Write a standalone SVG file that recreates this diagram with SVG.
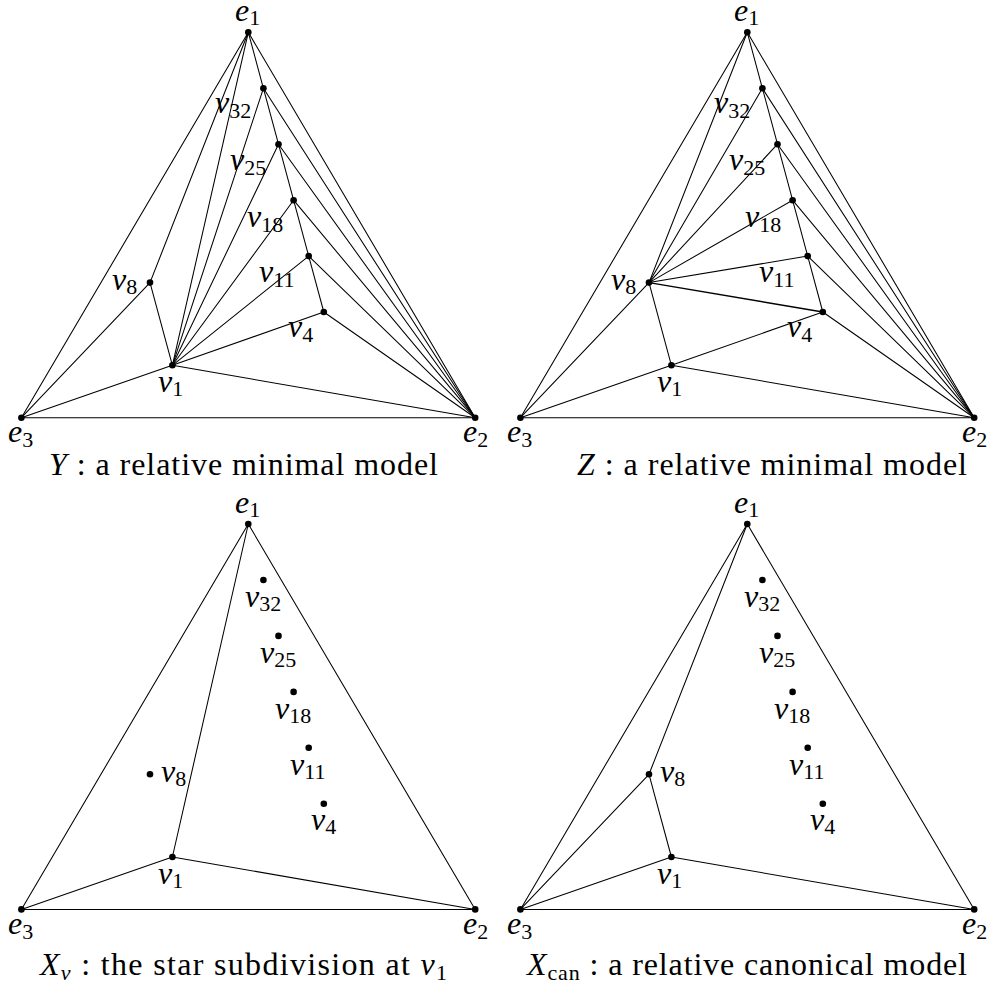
<svg xmlns="http://www.w3.org/2000/svg" width="993" height="998" viewBox="0 0 993 998" font-family="'Liberation Serif', 'Times New Roman', serif">
<style>
.bg{fill:#fff}
.e line{stroke:#000;stroke-width:1.05;stroke-linecap:round}
.pt{fill:#000}
text{font-family:'Liberation Serif','Times New Roman',serif;fill:#000}
.m{font-size:32px;font-style:italic}
.s{font-size:22px;font-style:normal}
.si{font-size:22px;font-style:italic}
.r{font-size:32px;font-style:normal}
</style>
<rect class="bg" x="0" y="0" width="993" height="998"/>

<!-- Panel Y -->
<g id="panel-Y">
  <g class="e" id="Y-connectors">
    <line x1="248.3" y1="32.3" x2="475.2" y2="417.7"/>
    <line x1="475.2" y1="417.7" x2="21.4" y2="417.7"/>
    <line x1="21.4" y1="417.7" x2="248.3" y2="32.3"/>
    <line x1="248.3" y1="32.3" x2="150" y2="282.6"/>
    <line x1="248.3" y1="32.3" x2="172.4" y2="365.3"/>
    <line x1="248.3" y1="32.3" x2="263.4" y2="88.3"/>
    <line x1="263.4" y1="88.3" x2="278.5" y2="144.2"/>
    <line x1="278.5" y1="144.2" x2="293.6" y2="200.2"/>
    <line x1="293.6" y1="200.2" x2="308.7" y2="256.1"/>
    <line x1="308.7" y1="256.1" x2="323.8" y2="312"/>
    <line x1="263.4" y1="88.3" x2="475.2" y2="417.7"/>
    <line x1="278.5" y1="144.2" x2="475.2" y2="417.7"/>
    <line x1="293.6" y1="200.2" x2="475.2" y2="417.7"/>
    <line x1="308.7" y1="256.1" x2="475.2" y2="417.7"/>
    <line x1="323.8" y1="312" x2="475.2" y2="417.7"/>
    <line x1="172.4" y1="365.3" x2="475.2" y2="417.7"/>
    <line x1="263.4" y1="88.3" x2="172.4" y2="365.3"/>
    <line x1="278.5" y1="144.2" x2="172.4" y2="365.3"/>
    <line x1="293.6" y1="200.2" x2="172.4" y2="365.3"/>
    <line x1="308.7" y1="256.1" x2="172.4" y2="365.3"/>
    <line x1="323.8" y1="312" x2="172.4" y2="365.3"/>
    <line x1="150" y1="282.6" x2="172.4" y2="365.3"/>
    <line x1="150" y1="282.6" x2="21.4" y2="417.7"/>
    <line x1="172.4" y1="365.3" x2="21.4" y2="417.7"/>
  </g>
  <g id="Y-e1"><circle class="pt" cx="248.3" cy="32.3" r="3.3"/><text class="m" x="235" y="21">e<tspan class="s" dy="4">1</tspan></text></g>
  <g id="Y-e2"><circle class="pt" cx="475.2" cy="417.7" r="3.3"/><text class="m" x="463" y="442">e<tspan class="s" dy="5">2</tspan></text></g>
  <g id="Y-e3"><circle class="pt" cx="21.4" cy="417.7" r="3.3"/><text class="m" x="8" y="442">e<tspan class="s" dy="5">3</tspan></text></g>
  <g id="Y-v32"><circle class="pt" cx="263.4" cy="88.3" r="3.3"/><text class="m" x="215" y="113">v<tspan class="s" dy="5">32</tspan></text></g>
  <g id="Y-v25"><circle class="pt" cx="278.5" cy="144.2" r="3.3"/><text class="m" x="230" y="170">v<tspan class="s" dy="5">25</tspan></text></g>
  <g id="Y-v18"><circle class="pt" cx="293.6" cy="200.2" r="3.3"/><text class="m" x="247" y="227">v<tspan class="s" dy="5">18</tspan></text></g>
  <g id="Y-v11"><circle class="pt" cx="308.7" cy="256.1" r="3.3"/><text class="m" x="259" y="282">v<tspan class="s" dy="5">11</tspan></text></g>
  <g id="Y-v4"><circle class="pt" cx="323.8" cy="312" r="3.3"/><text class="m" x="288" y="337">v<tspan class="s" dy="5">4</tspan></text></g>
  <g id="Y-v8"><circle class="pt" cx="150" cy="282.6" r="3.3"/><text class="m" x="112" y="290">v<tspan class="s" dy="4">8</tspan></text></g>
  <g id="Y-v1"><circle class="pt" cx="172.4" cy="365.3" r="3.3"/><text class="m" x="158" y="392">v<tspan class="s" dy="4">1</tspan></text></g>
  <text id="Y-caption" x="49" y="475" textLength="389" lengthAdjust="spacing"><tspan class="m">Y</tspan><tspan class="r"> : a relative minimal model</tspan></text>
</g>

<!-- Panel Z -->
<g id="panel-Z" transform="translate(499,0)">
  <g class="e" id="Z-connectors">
    <line x1="248.3" y1="32.3" x2="475.2" y2="417.7"/>
    <line x1="475.2" y1="417.7" x2="21.4" y2="417.7"/>
    <line x1="21.4" y1="417.7" x2="248.3" y2="32.3"/>
    <line x1="248.3" y1="32.3" x2="150" y2="282.6"/>
    <line x1="248.3" y1="32.3" x2="263.4" y2="88.3"/>
    <line x1="263.4" y1="88.3" x2="278.5" y2="144.2"/>
    <line x1="278.5" y1="144.2" x2="293.6" y2="200.2"/>
    <line x1="293.6" y1="200.2" x2="308.7" y2="256.1"/>
    <line x1="308.7" y1="256.1" x2="323.8" y2="312"/>
    <line x1="263.4" y1="88.3" x2="475.2" y2="417.7"/>
    <line x1="278.5" y1="144.2" x2="475.2" y2="417.7"/>
    <line x1="293.6" y1="200.2" x2="475.2" y2="417.7"/>
    <line x1="308.7" y1="256.1" x2="475.2" y2="417.7"/>
    <line x1="323.8" y1="312" x2="475.2" y2="417.7"/>
    <line x1="172.4" y1="365.3" x2="475.2" y2="417.7"/>
    <line x1="150" y1="282.6" x2="263.4" y2="88.3"/>
    <line x1="150" y1="282.6" x2="278.5" y2="144.2"/>
    <line x1="150" y1="282.6" x2="293.6" y2="200.2"/>
    <line x1="150" y1="282.6" x2="308.7" y2="256.1"/>
    <line x1="150" y1="282.6" x2="323.8" y2="312" style="stroke-width:1.4"/>
    <line x1="150" y1="282.6" x2="172.4" y2="365.3"/>
    <line x1="150" y1="282.6" x2="21.4" y2="417.7"/>
    <line x1="172.4" y1="365.3" x2="21.4" y2="417.7"/>
    <line x1="172.4" y1="365.3" x2="323.8" y2="312"/>
  </g>
  <g id="Z-e1"><circle class="pt" cx="248.3" cy="32.3" r="3.3"/><text class="m" x="235" y="21">e<tspan class="s" dy="4">1</tspan></text></g>
  <g id="Z-e2"><circle class="pt" cx="475.2" cy="417.7" r="3.3"/><text class="m" x="463" y="442">e<tspan class="s" dy="5">2</tspan></text></g>
  <g id="Z-e3"><circle class="pt" cx="21.4" cy="417.7" r="3.3"/><text class="m" x="8" y="442">e<tspan class="s" dy="5">3</tspan></text></g>
  <g id="Z-v32"><circle class="pt" cx="263.4" cy="88.3" r="3.3"/><text class="m" x="215" y="113">v<tspan class="s" dy="5">32</tspan></text></g>
  <g id="Z-v25"><circle class="pt" cx="278.5" cy="144.2" r="3.3"/><text class="m" x="230" y="170">v<tspan class="s" dy="5">25</tspan></text></g>
  <g id="Z-v18"><circle class="pt" cx="293.6" cy="200.2" r="3.3"/><text class="m" x="246" y="227">v<tspan class="s" dy="5">18</tspan></text></g>
  <g id="Z-v11"><circle class="pt" cx="308.7" cy="256.1" r="3.3"/><text class="m" x="260" y="282">v<tspan class="s" dy="5">11</tspan></text></g>
  <g id="Z-v4"><circle class="pt" cx="323.8" cy="312" r="3.3"/><text class="m" x="288" y="337">v<tspan class="s" dy="5">4</tspan></text></g>
  <g id="Z-v8"><circle class="pt" cx="150" cy="282.6" r="3.3"/><text class="m" x="112" y="290">v<tspan class="s" dy="4">8</tspan></text></g>
  <g id="Z-v1"><circle class="pt" cx="172.4" cy="365.3" r="3.3"/><text class="m" x="158" y="392">v<tspan class="s" dy="4">1</tspan></text></g>
  <text id="Z-caption" x="78" y="475" textLength="390" lengthAdjust="spacing"><tspan class="m">Z</tspan><tspan class="r"> : a relative minimal model</tspan></text>
</g>

<!-- Panel X_v -->
<g id="panel-Xv" transform="translate(0,491.7)">
  <g class="e" id="Xv-connectors">
    <line x1="248.3" y1="32.3" x2="475.2" y2="417.7"/>
    <line x1="475.2" y1="417.7" x2="21.4" y2="417.7"/>
    <line x1="21.4" y1="417.7" x2="248.3" y2="32.3"/>
    <line x1="248.3" y1="32.3" x2="172.4" y2="365.3"/>
    <line x1="172.4" y1="365.3" x2="21.4" y2="417.7"/>
    <line x1="172.4" y1="365.3" x2="475.2" y2="417.7"/>
  </g>
  <g id="Xv-e1"><circle class="pt" cx="248.3" cy="32.3" r="3.3"/><text class="m" x="235" y="21">e<tspan class="s" dy="4">1</tspan></text></g>
  <g id="Xv-e2"><circle class="pt" cx="475.2" cy="417.7" r="3.3"/><text class="m" x="463" y="442">e<tspan class="s" dy="5">2</tspan></text></g>
  <g id="Xv-e3"><circle class="pt" cx="21.4" cy="417.7" r="3.3"/><text class="m" x="8" y="442">e<tspan class="s" dy="5">3</tspan></text></g>
  <g id="Xv-v32"><circle class="pt" cx="263.4" cy="88.3" r="3.3"/><text class="m" x="245" y="115">v<tspan class="s" dy="4">32</tspan></text></g>
  <g id="Xv-v25"><circle class="pt" cx="278.5" cy="144.2" r="3.3"/><text class="m" x="260" y="171">v<tspan class="s" dy="4">25</tspan></text></g>
  <g id="Xv-v18"><circle class="pt" cx="293.6" cy="200.2" r="3.3"/><text class="m" x="275" y="227">v<tspan class="s" dy="4">18</tspan></text></g>
  <g id="Xv-v11"><circle class="pt" cx="308.7" cy="256.1" r="3.3"/><text class="m" x="290" y="283">v<tspan class="s" dy="4">11</tspan></text></g>
  <g id="Xv-v4"><circle class="pt" cx="323.8" cy="312" r="3.3"/><text class="m" x="311" y="338">v<tspan class="s" dy="4">4</tspan></text></g>
  <g id="Xv-v8"><circle class="pt" cx="150" cy="282.6" r="3.3"/><text class="m" x="161" y="290">v<tspan class="s" dy="4">8</tspan></text></g>
  <g id="Xv-v1"><circle class="pt" cx="172.4" cy="365.3" r="3.3"/><text class="m" x="158" y="392">v<tspan class="s" dy="4">1</tspan></text></g>
  <text id="Xv-caption" x="40" y="483.3" textLength="407" lengthAdjust="spacing"><tspan class="m">X</tspan><tspan class="si" dy="5">v</tspan><tspan class="r" dy="-5"> : the star subdivision at </tspan><tspan class="m">v</tspan><tspan class="s" dy="5">1</tspan></text>
</g>

<!-- Panel X_can -->
<g id="panel-Xcan" transform="translate(499,491.7)">
  <g class="e" id="Xcan-connectors">
    <line x1="248.3" y1="32.3" x2="475.2" y2="417.7"/>
    <line x1="475.2" y1="417.7" x2="21.4" y2="417.7"/>
    <line x1="21.4" y1="417.7" x2="248.3" y2="32.3"/>
    <line x1="248.3" y1="32.3" x2="150" y2="282.6"/>
    <line x1="150" y1="282.6" x2="21.4" y2="417.7"/>
    <line x1="150" y1="282.6" x2="172.4" y2="365.3"/>
    <line x1="172.4" y1="365.3" x2="21.4" y2="417.7"/>
    <line x1="172.4" y1="365.3" x2="475.2" y2="417.7"/>
  </g>
  <g id="Xcan-e1"><circle class="pt" cx="248.3" cy="32.3" r="3.3"/><text class="m" x="235" y="21">e<tspan class="s" dy="4">1</tspan></text></g>
  <g id="Xcan-e2"><circle class="pt" cx="475.2" cy="417.7" r="3.3"/><text class="m" x="463" y="442">e<tspan class="s" dy="5">2</tspan></text></g>
  <g id="Xcan-e3"><circle class="pt" cx="21.4" cy="417.7" r="3.3"/><text class="m" x="8" y="442">e<tspan class="s" dy="5">3</tspan></text></g>
  <g id="Xcan-v32"><circle class="pt" cx="263.4" cy="88.3" r="3.3"/><text class="m" x="245" y="115">v<tspan class="s" dy="4">32</tspan></text></g>
  <g id="Xcan-v25"><circle class="pt" cx="278.5" cy="144.2" r="3.3"/><text class="m" x="260" y="171">v<tspan class="s" dy="4">25</tspan></text></g>
  <g id="Xcan-v18"><circle class="pt" cx="293.6" cy="200.2" r="3.3"/><text class="m" x="275" y="227">v<tspan class="s" dy="4">18</tspan></text></g>
  <g id="Xcan-v11"><circle class="pt" cx="308.7" cy="256.1" r="3.3"/><text class="m" x="290" y="283">v<tspan class="s" dy="4">11</tspan></text></g>
  <g id="Xcan-v4"><circle class="pt" cx="323.8" cy="312" r="3.3"/><text class="m" x="311" y="338">v<tspan class="s" dy="4">4</tspan></text></g>
  <g id="Xcan-v8"><circle class="pt" cx="150" cy="282.6" r="3.3"/><text class="m" x="161" y="290">v<tspan class="s" dy="4">8</tspan></text></g>
  <g id="Xcan-v1"><circle class="pt" cx="172.4" cy="365.3" r="3.3"/><text class="m" x="158" y="392">v<tspan class="s" dy="4">1</tspan></text></g>
  <text id="Xcan-caption" x="28" y="483.3" textLength="440" lengthAdjust="spacing"><tspan class="m">X</tspan><tspan class="s" dy="5">can</tspan><tspan class="r" dy="-5"> : a relative canonical model</tspan></text>
</g>
</svg>
